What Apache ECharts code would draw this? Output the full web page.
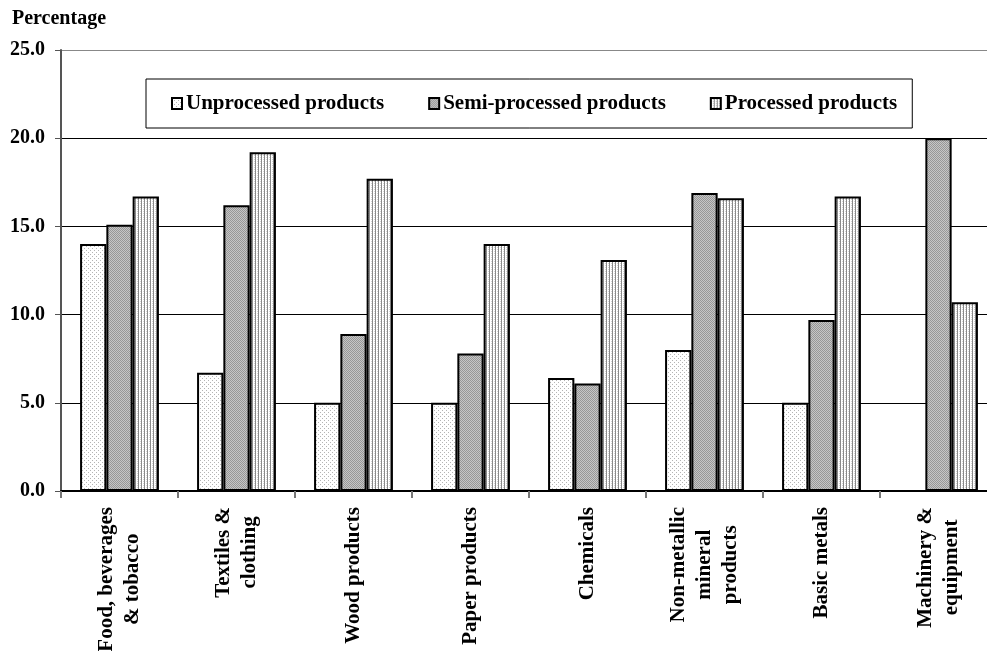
<!DOCTYPE html>
<html>
<head>
<meta charset="utf-8">
<script src="https://cdn.jsdelivr.net/npm/echarts@6/dist/echarts.min.js"></script>
<style>
html,body{margin:0;padding:0;background:#fff;}
#chart{width:987px;height:651px;}
</style>
</head>
<body>
<div id="chart"></div>
<script>
const categories = ['Food, beverages\n& tobacco', 'Textiles &\nclothing', 'Wood products', 'Paper products', 'Chemicals', 'Non-metallic\nmineral\nproducts', 'Basic metals', 'Machinery &\nequipment'];
const unprocessed = [14.0, 6.7, 5.0, 5.0, 6.4, 8.0, 5.0, 0];
const semiProcessed = [15.1, 16.2, 8.9, 7.8, 6.1, 16.9, 9.7, 20.0];
const processed = [16.7, 19.2, 17.7, 14.0, 13.1, 16.6, 16.7, 10.7];
const seriesNames = ['Unprocessed products', 'Semi-processed products', 'Processed products'];
const yTicks = [0, 5, 10, 15, 20, 25];

const FONT = '"Liberation Serif", "Times New Roman", serif';

function pat(w, h, draw) {
  const c = document.createElement('canvas');
  c.width = w; c.height = h;
  const ctx = c.getContext('2d');
  draw(ctx);
  return c;
}
function px(ctx, x, y, col) { ctx.fillStyle = col; ctx.fillRect(x, y, 1, 1); }

const patUnproc = pat(4, 4, ctx => {
  ctx.fillStyle = '#ffffff'; ctx.fillRect(0, 0, 4, 4);
  px(ctx, 0, 0, '#b4b4b4'); px(ctx, 2, 2, '#b4b4b4');
});
const patSemi = pat(2, 2, ctx => {
  ctx.fillStyle = '#c6c6c6'; ctx.fillRect(0, 0, 2, 2);
  px(ctx, 0, 0, '#979797'); px(ctx, 1, 1, '#979797');
});
const patProc = pat(3, 2, ctx => {
  ctx.fillStyle = '#ffffff'; ctx.fillRect(0, 0, 3, 2);
  ctx.fillStyle = '#8a8a8a'; ctx.fillRect(0, 0, 1, 2);
  px(ctx, 2, 1, '#d4d4d4');
});

const patterns = [patUnproc, patSemi, patProc];
const dataSets = [unprocessed, semiProcessed, processed];

const chart = echarts.init(document.getElementById('chart'), null, {renderer: 'canvas'});

const option = {
  animation: false,
  backgroundColor: '#fff',
  title: {
    text: 'Percentage',
    left: 12, top: 9, padding: 0,
    textStyle: {fontFamily: FONT, fontWeight: 'bold', fontSize: 20, color: '#000'}
  },
  legend: {
    data: seriesNames,
    left: 146, top: 79,
    padding: [14, 15, 14, 25],
    borderColor: '#000', borderWidth: 1,
    backgroundColor: '#fff',
    itemWidth: 10, itemHeight: 11, itemGap: 44,
    icon: 'rect',
    textStyle: {fontFamily: FONT, fontWeight: 'bold', fontSize: 21, color: '#000', padding: [0, 0, 0, -1]},
    selectedMode: false
  },
  grid: {left: 61, top: 50, width: 936, height: 441, containLabel: false, outerBoundsMode: 'none'},
  xAxis: {
    type: 'category',
    data: categories,
    axisLine: {show: true, lineStyle: {color: '#000', width: 2}},
    axisTick: {show: true, length: 7, lineStyle: {color: '#777', width: 2}},
    axisLabel: {
      interval: 0, rotate: 90, margin: 16,
      formatter: v => v.split('\n').map(s => '{c|' + s + '}').join('\n'),
      rich: {c: {align: 'center', fontFamily: FONT, fontWeight: 'bold', fontSize: 21, lineHeight: 26, color: '#000'}}
    }
  },
  yAxis: {
    type: 'value',
    min: yTicks[0], max: yTicks[yTicks.length - 1], interval: 5,
    axisLine: {show: true, lineStyle: {color: '#555', width: 2}},
    axisTick: {show: true, length: 6, lineStyle: {color: '#555', width: 1}},
    axisLabel: {
      margin: 16,
      formatter: v => v.toFixed(1),
      fontFamily: FONT, fontWeight: 'bold', fontSize: 20, color: '#000'
    },
    splitLine: {show: true, lineStyle: {color: ['#000', '#000', '#000', '#000', '#000', '#888'], width: 1.2}}
  },
  series: seriesNames.map((name, i) => ({
    name: name,
    type: 'bar',
    data: dataSets[i],
    barGap: '0%',
    barCategoryGap: '32.6%',
    itemStyle: {
      color: {image: patterns[i], repeat: 'repeat'},
      borderColor: '#000',
      borderWidth: 2
    }
  }))
};
chart.setOption(option);
</script>
</body>
</html>
